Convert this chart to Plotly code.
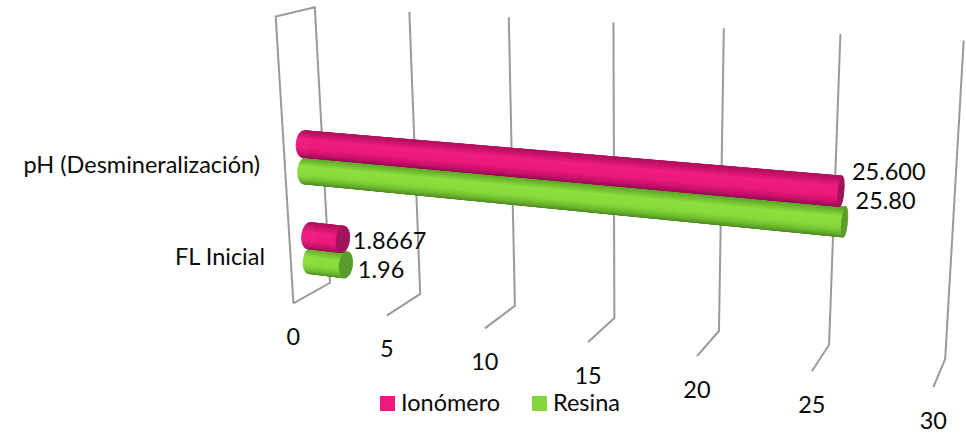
import numpy as np
import plotly.graph_objects as go

# Chart data
categories = ["FL Inicial", "pH (Desmineralización)"]
series_names = ["Ionómero", "Resina"]
ionomero = [1.8667, 25.600]
resina = [1.96, 25.80]
ionomero_labels = ["1.8667", "25.600"]
resina_labels = ["1.96", "25.80"]
value_ticks = [0, 5, 10, 15, 20, 25, 30]

W, H = 966, 435
FONT = "Lato"
TEXT_SIZE = 23.5
GRID = "#9a9a9a"

# Perspective camera: (value, depth, height) control points on the chart box
# and where they land on the page; the projection is solved from them below.
box_points = [
    (0, 0, 1, 276, 16), (0, 1, 1, 314, 7), (0, 0, 0, 293, 303), (0, 1, 0, 330, 283),
    (5, 1, 1, 409, 12), (5, 1, 0, 420, 293), (5, 0, 0, 387, 316),
    (10, 1, 1, 510, 18), (10, 1, 0, 515, 305), (10, 0, 0, 485, 329),
    (15, 1, 1, 614, 24), (15, 1, 0, 615, 318), (15, 0, 0, 588, 342),
    (20, 1, 1, 723, 29), (20, 1, 0, 719, 331), (20, 0, 0, 697, 356),
    (25, 1, 1, 840, 33), (25, 1, 0, 829, 345), (25, 0, 0, 812, 371),
    (30, 1, 1, 964, 39), (30, 1, 0, 945, 360), (30, 0, 0, 933, 387),
]


def solve_camera(points):
    rows = []
    for v, d, h, x, y in points:
        p = [v, d, h, 1]
        rows.append(p + [0, 0, 0, 0] + [-x * c for c in p])
        rows.append([0, 0, 0, 0] + p + [-y * c for c in p])
    _, _, vt = np.linalg.svd(np.array(rows, dtype=float))
    return vt[-1].reshape(3, 4)


CAM = solve_camera(box_points)


def project(v, d, h):
    q = CAM @ np.array([v, d, h, 1.0])
    return q[0] / q[2], q[1] / q[2]


def mix(stops, t):
    ts = [s[0] for s in stops]
    rgb = [np.interp(t, ts, [s[1][i] for s in stops]) for i in range(3)]
    return "rgb(%d,%d,%d)" % tuple(int(round(c)) for c in rgb)


fig = go.Figure()


def polyline(points, color=GRID, width=2):
    xs, ys = zip(*[project(*p) for p in points])
    fig.add_trace(go.Scatter(x=xs, y=ys, mode="lines", showlegend=False, hoverinfo="skip",
                             line=dict(color=color, width=width)))


# Gridlines and floor ticks
polyline([(0, 0, 0), (0, 0, 1), (0, 1, 1), (0, 1, 0), (0, 0, 0)])
for tick in value_ticks[1:]:
    polyline([(tick, 1, 1), (tick, 1, 0), (tick, 0, 0)])

# Cylinder geometry in box units
DEPTH_CENTER = 0.5
R_H = 0.046
R_D = 0.19
cat_height = {"FL Inicial": {"Ionómero": 0.212, "Resina": 0.120},
              "pH (Desmineralización)": {"Ionómero": 0.542, "Resina": 0.447}}

rgb_pink = [(-1.0, (140, 10, 80)), (-0.45, (205, 18, 110)), (0.0, (236, 26, 125)),
            (0.55, (240, 28, 130)), (1.0, (180, 16, 95))]
rgb_green = [(-1.0, (72, 130, 30)), (-0.45, (112, 190, 48)), (0.0, (135, 220, 60)),
             (0.55, (140, 225, 62)), (1.0, (95, 165, 40))]
cap_pink = "#a0145c"
cap_green = "#5c9c2c"
SEGMENTS = 40


def cylinder(value, height, stops, cap):
    angles = np.linspace(-np.pi, np.pi, SEGMENTS + 1)
    rings = []
    for a in angles:
        rings.append((DEPTH_CENTER - R_D * np.cos(a), height + R_H * np.sin(a)))
    order = sorted(range(SEGMENTS), key=lambda i: -abs((angles[i] + angles[i + 1]) / 2))
    for i in order:
        (d0, h0), (d1, h1) = rings[i], rings[i + 1]
        corners = [project(0, d0, h0), project(value, d0, h0),
                   project(value, d1, h1), project(0, d1, h1)]
        corners.append(corners[0])
        xs, ys = zip(*corners)
        color = mix(stops, np.sin((angles[i] + angles[i + 1]) / 2))
        fig.add_trace(go.Scatter(x=xs, y=ys, mode="lines", fill="toself", fillcolor=color,
                                 line=dict(color=color, width=0.7),
                                 showlegend=False, hoverinfo="skip"))
    xs, ys = zip(*[project(value, d, h) for d, h in rings])
    fig.add_trace(go.Scatter(x=xs, y=ys, mode="lines", fill="toself", fillcolor=cap,
                             line=dict(color=cap, width=0.7),
                             showlegend=False, hoverinfo="skip"))


for j in (1, 0):
    cat = categories[j]
    cylinder(resina[j], cat_height[cat]["Resina"], rgb_green, cap_green)
    cylinder(ionomero[j], cat_height[cat]["Ionómero"], rgb_pink, cap_pink)


def label(x, y, text, position="middle center"):
    fig.add_trace(go.Scatter(x=[x], y=[y], mode="text", text=[text], textposition=position,
                             textfont=dict(family=FONT, size=TEXT_SIZE, color="#0a0a0a"),
                             showlegend=False, hoverinfo="skip"))


# Value labels beside the bar ends: gap to the right, lift above the bar axis
label_offsets = {"Ionómero": [(10, -4), (11, 17)], "Resina": [(12, -7), (11, 19)]}
for vals, texts, name in ((ionomero, ionomero_labels, "Ionómero"),
                          (resina, resina_labels, "Resina")):
    for j, cat in enumerate(categories):
        ex, ey = project(vals[j], DEPTH_CENTER, cat_height[cat][name])
        gap, lift = label_offsets[name][j]
        label(ex + gap, ey - lift, texts[j], "middle right")

# Value axis labels below the floor ticks
for tick in value_ticks:
    tx, ty = project(tick, 0, 0)
    label(tx, ty + 36, str(tick))

# Category labels, right-aligned against the chart box
for cat, cx, cy in zip(categories, (265, 260), (259, 167)):
    label(cx, cy, cat, "middle left")

# Legend keys
for name, color, kx, tx in zip(series_names, ("#ec1a7c", "#84d43c"), (387.5, 539.5), (401, 553)):
    fig.add_trace(go.Scatter(x=[kx], y=[403.5], mode="markers", name=name,
                             marker=dict(symbol="square", size=15, color=color),
                             showlegend=False, hoverinfo="skip"))
    label(tx, 405, name, "middle right")

fig.update_layout(
    width=W, height=H, margin=dict(l=0, r=0, t=0, b=0),
    paper_bgcolor="white", plot_bgcolor="white", showlegend=False,
    xaxis=dict(visible=False, range=[0, W], fixedrange=True),
    yaxis=dict(visible=False, range=[H, 0], fixedrange=True),
)
fig.write_html("out.html", config={"displayModeBar": False})
